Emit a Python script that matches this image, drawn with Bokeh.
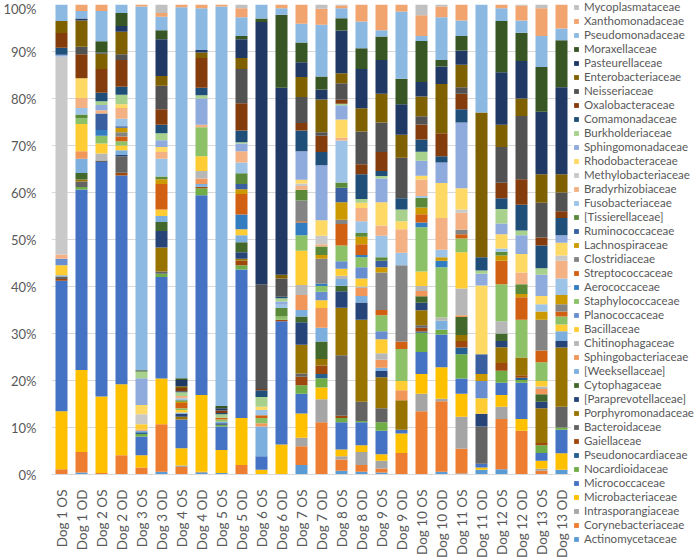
import math
from bokeh.plotting import figure
from bokeh.models import (ColumnDataSource, Legend, LegendItem, FactorRange,
                          Range1d, FixedTicker, PrintfTickFormatter)
from bokeh.embed import file_html
from bokeh.resources import INLINE

samples = ["Dog 1 OS", "Dog 1 OD", "Dog 2 OS", "Dog 2 OD", "Dog 3 OS", "Dog 3 OD",
           "Dog 4 OS", "Dog 4 OD", "Dog 5 OS", "Dog 5 OD", "Dog 6 OS", "Dog 6 OD",
           "Dog 7 OS", "Dog 7 OD", "Dog 8 OS", "Dog 8 OD", "Dog 9 OS", "Dog 9 OD",
           "Dog 10 OS", "Dog 10 OD", "Dog 11 OS", "Dog 11 OD", "Dog 12 OS", "Dog 12 OD",
           "Dog 13 OS", "Dog 13 OD"]

# relative abundance (%) per family, one value per sample (stack order: bottom first)
actinomycetaceae = [0, 0.4, 0, 0, 0, 0.6, 0, 0.3, 0.3, 0, 0, 0, 2.0, 0, 0.8, 0.6, 0.4, 0, 0, 0.6, 0.2, 1.0, 1.1, 0, 0, 1.0]
corynebacteriaceae = [1.1, 4.4, 0.3, 4.1, 1.5, 10.1, 1.6, 0, 0, 2.0, 0, 0, 4.0, 11.1, 2.4, 1.4, 0.9, 4.6, 13.5, 15.0, 5.3, 0, 10.7, 9.3, 0.8, 0]
intrasporangiaceae = [0, 0, 0, 0, 0, 0, 0.3, 0.3, 0, 0, 0, 0, 1.8, 4.9, 0.7, 2.8, 1.6, 0, 3.7, 0.5, 6.8, 0, 2.6, 0, 0.4, 0]
microbacteriaceae = [12.4, 17.4, 16.3, 15.1, 2.6, 9.7, 3.7, 16.3, 4.9, 10.0, 1.0, 6.4, 5.2, 2.5, 1.4, 1.4, 1.4, 4.1, 4.2, 6.7, 4.9, 0.5, 2.5, 2.5, 1.7, 3.5]
micrococcaceae = [27.8, 38.4, 49.9, 44.4, 4.0, 21.6, 6.1, 42.5, 5.0, 31.6, 2.9, 26.2, 4.2, 0, 5.8, 4.9, 5.0, 0.8, 4.7, 7.0, 3.2, 0.8, 2.6, 7.7, 1.7, 5.0]
nocardioidaceae = [0, 0.5, 0, 0, 0.5, 0.7, 0, 1.5, 0.4, 0.9, 0, 0, 1.8, 2.0, 0.9, 0.3, 1.8, 0, 4.1, 1.0, 5.2, 0, 2.6, 0.6, 1.6, 0.5]
pseudonocardiaceae = [0, 0, 0, 0, 0.4, 0, 0, 0, 0, 0, 0, 0, 0, 0.9, 0, 0, 0, 0, 0.3, 0, 1.4, 0, 0, 0.5, 0, 0]
gaiellaceae = [0.4, 0, 0, 0.6, 0, 0, 0, 0.3, 0, 1.0, 0, 0.3, 1.8, 1.8, 0.5, 0, 0, 0, 0.8, 0, 1.4, 0, 1.6, 0.5, 0.5, 0]
bacteroidaceae = [0.5, 1.2, 0.3, 3.5, 0, 0.5, 0, 0, 0, 0, 0, 0, 0.7, 0, 12.8, 4.1, 3.0, 0, 0.5, 0, 0, 7.9, 0, 0, 0, 4.4]
porphyromonadaceae = [0, 0.4, 0, 0, 0, 5.1, 0.6, 0, 0, 0.4, 0, 0, 6.1, 1.4, 10.1, 17.4, 6.6, 6.3, 3.2, 0, 1.3, 0, 3.4, 3.8, 7.4, 12.6]
paraprevotellaceae = [0, 0, 0, 0.3, 0, 3.5, 0.6, 0, 0.3, 1.4, 0, 0, 4.8, 0, 3.5, 3.7, 1.3, 0, 1.6, 0, 0, 2.7, 1.3, 0, 1.4, 1.4]
cytophagaceae = [0, 1.4, 0, 0, 0, 1.9, 0, 0, 0, 2.1, 0, 0, 1.2, 3.7, 1.2, 0, 0, 0, 1.4, 0, 3.8, 0, 1.6, 0, 1.6, 0]
weeksellaceae = [0.3, 3.0, 0, 1.0, 0.3, 1.3, 0.3, 0.6, 0.3, 1.5, 6.3, 0, 1.4, 2.9, 1.4, 1.4, 0.7, 0, 0, 1.9, 0, 0, 0, 0, 0, 2.1]
sphingobacteriaceae = [0, 1.6, 0, 0, 0.3, 0, 0, 1.2, 0, 0, 0.7, 0, 3.2, 4.2, 0, 1.7, 1.7, 2.1, 1.1, 0, 0.4, 0, 0, 0, 1.1, 0]
chitinophagaceae = [0, 0, 1.5, 0, 0, 0, 0, 1.6, 0, 0, 0, 0, 2.1, 0, 0.7, 0.3, 1.4, 0, 1.1, 0.7, 5.7, 0, 2.6, 0, 0.5, 0]
bacillaceae = [2.1, 5.8, 2.1, 1.0, 1.1, 1.4, 0.5, 3.1, 0, 1.3, 0, 0, 7.3, 1.7, 1.5, 1.7, 3.0, 2.0, 3.1, 0, 7.7, 3.3, 0, 0, 1.2, 1.4]
planococcaceae = [1.4, 0, 0, 0, 0, 0, 0, 0, 0, 0, 0, 0, 0, 1.8, 1.6, 2.4, 1.7, 0, 0, 0, 0, 3.7, 0, 0, 0, 0]
staphylococcaceae = [0, 1.2, 1.7, 0.9, 0, 0, 0.4, 6.2, 0.5, 0, 1.1, 0.7, 3.3, 1.2, 3.3, 2.1, 3.4, 6.8, 9.4, 10.7, 2.9, 0, 7.9, 8.0, 4.0, 1.7]
aerococcaceae = [0, 0, 1.2, 0, 0, 0, 0, 0, 0, 3.1, 0, 0, 2.7, 0.5, 0, 0.5, 0, 0, 1.0, 1.4, 0, 0, 0, 0, 0, 0]
streptococcaceae = [0, 0, 0, 1.0, 0, 5.4, 1.1, 0, 0.4, 4.4, 0.6, 0, 0.3, 0, 4.6, 2.3, 1.1, 1.6, 1.8, 0, 0.9, 0, 5.0, 4.8, 2.5, 1.1]
clostridiaceae = [0, 0, 0, 0.9, 0, 0, 0, 0, 0, 0, 0, 0, 4.4, 5.3, 0.9, 0, 8.0, 16.2, 0, 0, 1.0, 0, 0, 0, 6.5, 1.5]
lachnospiraceae = [0, 0, 0, 1.0, 0, 1.0, 0.3, 0, 0, 1.0, 0, 0, 0, 0.8, 3.7, 1.6, 1.1, 0, 1.4, 0.7, 0, 1.5, 1.1, 0.7, 1.8, 2.0]
ruminococcaceae = [0, 0, 3.5, 0.3, 0, 0, 0, 0, 0, 1.1, 0, 0, 0, 0, 3.1, 0, 1.4, 0, 0, 0, 0, 4.2, 0, 0, 0, 0]
tissierellaceae = [0, 0.8, 0, 0, 0, 0.6, 0.3, 0, 0, 2.3, 0, 1.8, 2.3, 1.8, 1.1, 0.8, 0.7, 0, 2.1, 0, 0, 0, 0.8, 2.1, 0, 0]
fusobacteriaceae = [0, 1.4, 0, 1.6, 0, 3.8, 0.4, 0, 0, 2.3, 1.1, 0.7, 0, 0, 8.9, 2.5, 4.6, 2.7, 0.4, 1.6, 0, 0, 0.7, 0, 1.5, 3.5]
bradyrhizobiaceae = [0.9, 2.1, 0.7, 2.3, 0, 1.4, 0.5, 0.5, 0, 2.4, 0, 0, 0.8, 0.5, 0.6, 2.8, 2.2, 5.0, 3.5, 6.8, 3.6, 0, 0, 2.5, 0, 3.8]
methylobacteriaceae = [42.2, 0, 0, 0, 2.1, 0, 0, 0, 0, 0, 0, 0, 0.5, 1.8, 0, 0, 0, 0, 0, 0, 0.7, 0, 0, 0, 0, 1.1]
rhodobacteraceae = [0, 4.2, 0, 0.8, 2.0, 1.1, 0, 0, 0, 0, 0.7, 0, 0.8, 3.3, 3.9, 1.1, 4.9, 1.7, 0.8, 7.4, 4.5, 14.6, 3.0, 3.9, 1.8, 2.7]
sphingomonadaceae = [0.4, 0, 1.1, 0, 5.7, 1.4, 0, 5.6, 0, 1.6, 0, 0.7, 6.1, 11.7, 3.0, 0, 5.1, 0, 3.2, 4.4, 14.0, 2.5, 2.3, 4.0, 4.5, 1.6]
burkholderiaceae = [0, 0, 0.8, 2.0, 1.4, 1.5, 0.8, 0.7, 0.7, 0.3, 2.1, 0.7, 0, 0, 0.3, 0.8, 0.5, 2.5, 1.9, 0, 0, 0.7, 3.1, 1.0, 1.4, 0]
comamonadaceae = [1.5, 0, 1.8, 1.7, 0, 1.8, 0.2, 1.6, 0.3, 2.5, 1.4, 0.3, 4.4, 2.8, 0, 5.3, 1.1, 2.4, 2.6, 1.3, 2.8, 2.8, 2.3, 5.5, 4.8, 3.7]
oxalobacteraceae = [3.1, 5.1, 5.1, 5.7, 0, 3.3, 0.7, 6.3, 0.5, 5.8, 0.3, 0, 1.6, 3.5, 0.9, 2.1, 4.0, 0, 3.2, 4.9, 3.3, 0, 3.3, 5.4, 1.7, 1.4]
neisseriaceae = [0, 1.6, 0, 1.2, 0, 5.0, 0, 0, 0, 7.3, 22.3, 3.9, 5.5, 0.7, 3.5, 7.0, 6.3, 8.6, 1.8, 0, 1.4, 0, 7.6, 13.5, 7.4, 4.0]
enterobacteriaceae = [2.6, 5.6, 3.3, 4.8, 0, 2.1, 0.4, 1.2, 0, 2.3, 0, 0.8, 4.3, 7.0, 2.1, 4.9, 6.1, 4.9, 4.2, 10.5, 4.8, 30.8, 4.7, 3.7, 6.1, 3.9]
pasteurellaceae = [0, 0.4, 0.2, 1.2, 0, 7.8, 1.3, 0.5, 0.5, 4.0, 55.8, 39.8, 3.1, 2.1, 9.1, 8.4, 7.2, 6.5, 3.1, 3.7, 3.0, 0, 11.2, 8.0, 13.3, 18.5]
moraxellaceae = [0, 0, 2.4, 2.8, 0.3, 1.9, 0.4, 0, 0.5, 0.7, 0.7, 15.5, 4.2, 2.8, 2.6, 4.4, 5.0, 5.4, 8.7, 1.4, 3.1, 0, 10.9, 6.0, 9.5, 10.0]
pseudomonadaceae = [3.5, 1.6, 6.4, 1.8, 77.4, 2.9, 78.9, 8.9, 85.0, 4.0, 3.0, 1.4, 4.0, 11.0, 2.1, 5.7, 1.3, 14.3, 1.1, 9.1, 3.3, 23.0, 2.7, 2.6, 6.6, 2.5]
xanthomonadaceae = [0, 1.4, 1.4, 0, 0.4, 0.8, 0.6, 0.8, 0.4, 1.9, 0, 0.8, 4.1, 3.4, 0.6, 3.6, 5.5, 1.5, 4.4, 2.3, 3.4, 0, 0.8, 3.2, 5.9, 5.1]
mycoplasmataceae = [0, 0, 0, 0, 0, 1.8, 0, 0, 0, 0.8, 0, 0, 0, 0.9, 0.2, 0, 0, 0, 2.3, 0.4, 0, 0, 0, 0.2, 0.8, 0]

families = ["Actinomycetaceae", "Corynebacteriaceae", "Intrasporangiaceae", "Microbacteriaceae",
            "Micrococcaceae", "Nocardioidaceae", "Pseudonocardiaceae", "Gaiellaceae",
            "Bacteroidaceae", "Porphyromonadaceae", "[Paraprevotellaceae]", "Cytophagaceae",
            "[Weeksellaceae]", "Sphingobacteriaceae", "Chitinophagaceae", "Bacillaceae",
            "Planococcaceae", "Staphylococcaceae", "Aerococcaceae", "Streptococcaceae",
            "Clostridiaceae", "Lachnospiraceae", "Ruminococcaceae", "[Tissierellaceae]",
            "Fusobacteriaceae", "Bradyrhizobiaceae", "Methylobacteriaceae", "Rhodobacteraceae",
            "Sphingomonadaceae", "Burkholderiaceae", "Comamonadaceae", "Oxalobacteraceae",
            "Neisseriaceae", "Enterobacteriaceae", "Pasteurellaceae", "Moraxellaceae",
            "Pseudomonadaceae", "Xanthomonadaceae", "Mycoplasmataceae"]

series = [actinomycetaceae, corynebacteriaceae, intrasporangiaceae, microbacteriaceae,
          micrococcaceae, nocardioidaceae, pseudonocardiaceae, gaiellaceae,
          bacteroidaceae, porphyromonadaceae, paraprevotellaceae, cytophagaceae,
          weeksellaceae, sphingobacteriaceae, chitinophagaceae, bacillaceae,
          planococcaceae, staphylococcaceae, aerococcaceae, streptococcaceae,
          clostridiaceae, lachnospiraceae, ruminococcaceae, tissierellaceae,
          fusobacteriaceae, bradyrhizobiaceae, methylobacteriaceae, rhodobacteraceae,
          sphingomonadaceae, burkholderiaceae, comamonadaceae, oxalobacteraceae,
          neisseriaceae, enterobacteriaceae, pasteurellaceae, moraxellaceae,
          pseudomonadaceae, xanthomonadaceae, mycoplasmataceae]

colors = ["#5B9BD5", "#ED7D31", "#A5A5A5", "#FFC000", "#4472C4", "#70AD47",
          "#255E91", "#9E480E", "#636363", "#997300", "#264478", "#43682B",
          "#7CAFDD", "#F1975A", "#B7B7B7", "#FFCD33", "#698ED0", "#8CC168",
          "#327DC2", "#D26012", "#848484", "#CC9A00", "#3A5FA0", "#5A8A39",
          "#9DC3E6", "#F4B183", "#C9C9C9", "#FFD966", "#8FAADC", "#A9D18E",
          "#1F4E79", "#843C0C", "#525252", "#7F6000", "#203864", "#375623",
          "#8CB9E2", "#F2A46F", "#C0C0C0"]

# 100% stacked: normalise each sample
totals = [sum(s[i] for s in series) for i in range(len(samples))]
data = {"sample": samples}
for name, vals in zip(families, series):
    data[name] = [v * 100.0 / t for v, t in zip(vals, totals)]
source = ColumnDataSource(data)

FW, FH = 520, 470
p = figure(x_range=FactorRange(*samples), y_range=Range1d(0, 100),
           frame_width=FW, frame_height=FH,
           min_border_left=40, min_border_right=0, min_border_top=4, min_border_bottom=69,
           output_backend="svg", toolbar_location=None)

renderers = p.vbar_stack(families, x="sample", width=0.6, fill_color=colors,
                         line_color=None, source=source)

ticks = list(range(0, 101, 10))
p.yaxis.ticker = FixedTicker(ticks=ticks)
p.yaxis.formatter = PrintfTickFormatter(format="%d%%")
p.ygrid.ticker = FixedTicker(ticks=ticks)
p.ygrid.grid_line_color = "#D9D9D9"
p.xgrid.grid_line_color = None
p.outline_line_color = None

for ax in (p.xaxis[0], p.yaxis[0]):
    ax.major_tick_line_color = None
    ax.minor_tick_line_color = None
    ax.major_label_text_color = "#595959"
    ax.major_label_text_font = "Lato"
p.yaxis.axis_line_color = None
p.yaxis.major_label_text_font_size = "13px"
p.yaxis.major_label_standoff = 9
p.xaxis.axis_line_color = "#D9D9D9"
p.xaxis.major_label_orientation = math.pi / 2
p.xaxis.major_label_text_font_size = "13.5px"
p.xaxis.major_label_standoff = 9

ENTRY_H, GAP = 13, 1
LEG_H = 39 * ENTRY_H + 38 * GAP
items = [LegendItem(label=f, renderers=[r]) for f, r in reversed(list(zip(families, renderers)))]
legend = Legend(items=items, location=(2, FH - LEG_H + 4),
                glyph_width=6, glyph_height=6, label_standoff=5,
                label_text_font="Lato", label_text_font_size="11.5px",
                label_text_color="#595959", label_height=ENTRY_H, spacing=GAP,
                padding=0, margin=0, border_line_color=None,
                background_fill_alpha=0)
p.add_layout(legend, "right")

open("out.html", "w").write(file_html(p, INLINE))
